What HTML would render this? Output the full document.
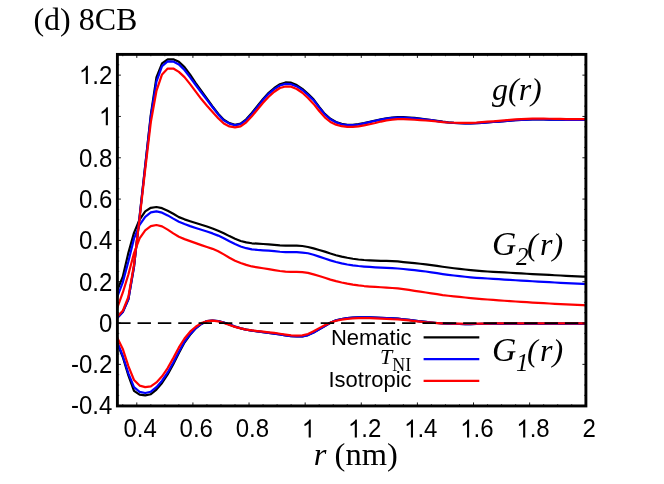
<!DOCTYPE html>
<html><head><meta charset="utf-8"><title>8CB</title>
<style>
html,body{margin:0;padding:0;background:#fff;}
body{width:664px;height:484px;overflow:hidden;position:relative;font-family:"Liberation Sans",sans-serif;}
svg text{white-space:pre;}
svg{will-change:transform;}
</style></head><body>
<svg width="664" height="484" viewBox="0 0 664 484" style="position:absolute;left:0;top:0">
<defs><clipPath id="c"><rect x="117.40" y="54.40" width="468.50" height="351.55"/></clipPath></defs>
<g clip-path="url(#c)" fill="none" stroke-width="2.2" stroke-linejoin="round" stroke-linecap="butt">
<path d="M117.16 318.00 L122.77 311.97 L128.38 299.27 L133.99 266.84 L139.61 216.40 L145.22 165.31 L150.83 114.64 L156.44 77.53 L162.05 63.39 L167.67 59.33 L173.28 59.34 L178.89 61.83 L184.50 67.15 L190.11 74.70 L195.73 83.11 L201.34 90.93 L206.95 98.66 L212.56 106.36 L218.17 113.70 L223.79 119.73 L229.40 123.15 L235.01 124.80 L240.62 123.59 L246.23 119.35 L251.85 112.99 L257.46 105.88 L263.07 98.88 L268.68 92.83 L274.29 87.99 L279.91 84.26 L285.52 82.45 L291.13 82.66 L296.74 85.05 L302.35 88.84 L307.97 93.90 L313.58 99.36 L319.19 106.85 L324.80 113.84 L330.41 118.83 L336.03 121.96 L341.64 123.83 L347.25 124.75 L352.86 124.89 L358.47 124.20 L364.09 123.13 L369.70 121.85 L375.31 120.50 L380.92 119.36 L386.53 118.36 L392.15 117.61 L397.76 117.21 L403.37 117.21 L408.98 117.49 L414.59 117.96 L420.21 118.57 L425.82 119.25 L431.43 119.98 L437.04 120.84 L442.65 121.68 L448.27 122.33 L453.88 122.83 L459.49 123.17 L465.10 123.32 L470.71 123.31 L476.33 123.16 L481.94 122.84 L487.55 122.41 L493.16 122.00 L498.77 121.58 L504.39 121.14 L510.00 120.66 L515.61 120.20 L521.22 119.84 L526.83 119.61 L532.45 119.46 L538.06 119.39 L543.67 119.43 L549.28 119.53 L554.89 119.63 L560.51 119.74 L566.12 119.85 L571.73 119.91 L577.34 119.92 L582.95 119.91 L585.76 119.90" stroke="#000"/>
<path d="M117.16 290.50 L122.77 276.76 L128.38 252.87 L133.99 232.88 L139.61 219.53 L145.22 211.39 L150.83 207.79 L156.44 207.01 L162.05 208.19 L167.67 210.78 L173.28 213.76 L178.89 217.12 L184.50 219.35 L190.11 221.21 L195.73 222.98 L201.34 224.72 L206.95 226.57 L212.56 228.50 L218.17 230.70 L223.79 233.30 L229.40 236.12 L235.01 238.74 L240.62 240.94 L246.23 242.40 L251.85 243.28 L257.46 243.66 L263.07 243.98 L268.68 244.35 L274.29 244.92 L279.91 245.41 L285.52 245.66 L291.13 245.66 L296.74 245.61 L302.35 246.00 L307.97 247.00 L313.58 248.41 L319.19 249.98 L324.80 251.65 L330.41 253.55 L336.03 255.22 L341.64 256.59 L347.25 257.79 L352.86 258.77 L358.47 259.52 L364.09 260.01 L369.70 260.32 L375.31 260.58 L380.92 260.79 L386.53 260.97 L392.15 261.11 L397.76 261.41 L403.37 262.06 L408.98 262.63 L414.59 263.16 L420.21 263.75 L425.82 264.38 L431.43 265.08 L437.04 265.89 L442.65 266.74 L448.27 267.51 L453.88 268.24 L459.49 268.92 L465.10 269.53 L470.71 270.08 L476.33 270.59 L481.94 271.07 L487.55 271.50 L493.16 271.87 L498.77 272.15 L504.39 272.44 L510.00 272.76 L515.61 273.10 L521.22 273.44 L526.83 273.77 L532.45 274.09 L538.06 274.40 L543.67 274.69 L549.28 274.97 L554.89 275.24 L560.51 275.51 L566.12 275.78 L571.73 276.04 L577.34 276.30 L582.95 276.56 L585.76 276.70" stroke="#000"/>
<path d="M117.16 343.00 L122.77 357.00 L128.38 375.37 L133.99 390.79 L139.61 394.65 L145.22 395.44 L150.83 394.21 L156.44 389.56 L162.05 382.98 L167.67 374.41 L173.28 364.17 L178.89 353.08 L184.50 342.48 L190.11 334.87 L195.73 328.30 L201.34 323.94 L206.95 321.04 L212.56 320.50 L218.17 321.01 L223.79 322.48 L229.40 324.46 L235.01 326.60 L240.62 328.31 L246.23 329.66 L251.85 330.65 L257.46 331.46 L263.07 332.17 L268.68 332.85 L274.29 333.55 L279.91 334.42 L285.52 335.29 L291.13 336.11 L296.74 336.50 L302.35 336.37 L307.97 335.06 L313.58 332.49 L319.19 329.23 L324.80 325.97 L330.41 322.82 L336.03 320.36 L341.64 318.99 L347.25 318.08 L352.86 317.60 L358.47 317.36 L364.09 317.30 L369.70 317.38 L375.31 317.54 L380.92 317.73 L386.53 318.02 L392.15 318.40 L397.76 318.70 L403.37 319.28 L408.98 319.96 L414.59 320.64 L420.21 321.30 L425.82 321.95 L431.43 322.51 L437.04 322.98 L442.65 323.36 L448.27 323.65 L453.88 323.85 L459.49 323.99 L465.10 324.05 L470.71 324.03 L476.33 323.99 L481.94 323.92 L487.55 323.84 L493.16 323.76 L498.77 323.71 L504.39 323.68 L510.00 323.65 L515.61 323.64 L521.22 323.63 L526.83 323.62 L532.45 323.61 L538.06 323.60 L543.67 323.60 L549.28 323.59 L554.89 323.59 L560.51 323.59 L566.12 323.59 L571.73 323.60 L577.34 323.60 L582.95 323.60 L585.76 323.60" stroke="#000"/>
<path d="M117.16 318.00 L122.77 311.97 L128.38 299.27 L133.99 266.80 L139.61 216.82 L145.22 166.12 L150.83 116.26 L156.44 81.63 L162.05 66.23 L167.67 61.43 L173.28 61.58 L178.89 64.40 L184.50 70.01 L190.11 77.28 L195.73 85.01 L201.34 92.48 L206.95 99.90 L212.56 107.28 L218.17 114.44 L223.79 120.40 L229.40 123.64 L235.01 125.20 L240.62 124.05 L246.23 120.03 L251.85 113.88 L257.46 106.89 L263.07 99.87 L268.68 93.87 L274.29 89.16 L279.91 85.53 L285.52 83.90 L291.13 84.19 L296.74 86.43 L302.35 90.00 L307.97 94.91 L313.58 100.20 L319.19 107.59 L324.80 114.48 L330.41 119.33 L336.03 122.37 L341.64 124.23 L347.25 125.13 L352.86 125.19 L358.47 124.50 L364.09 123.43 L369.70 122.15 L375.31 120.80 L380.92 119.66 L386.53 118.66 L392.15 117.91 L397.76 117.51 L403.37 117.51 L408.98 117.80 L414.59 118.26 L420.21 118.84 L425.82 119.47 L431.43 120.18 L437.04 121.05 L442.65 121.89 L448.27 122.50 L453.88 122.91 L459.49 123.18 L465.10 123.31 L470.71 123.31 L476.33 123.16 L481.94 122.84 L487.55 122.41 L493.16 122.00 L498.77 121.58 L504.39 121.14 L510.00 120.66 L515.61 120.20 L521.22 119.84 L526.83 119.61 L532.45 119.46 L538.06 119.39 L543.67 119.43 L549.28 119.53 L554.89 119.63 L560.51 119.74 L566.12 119.85 L571.73 119.91 L577.34 119.92 L582.95 119.91 L585.76 119.90" stroke="#0000ff"/>
<path d="M117.16 297.20 L122.77 282.39 L128.38 261.56 L133.99 238.64 L139.61 224.90 L145.22 216.85 L150.83 212.44 L156.44 211.40 L162.05 212.68 L167.67 215.39 L173.28 218.66 L178.89 221.74 L184.50 224.07 L190.11 226.10 L195.73 227.95 L201.34 229.72 L206.95 231.54 L212.56 233.41 L218.17 235.61 L223.79 238.29 L229.40 241.28 L235.01 244.10 L240.62 246.48 L246.23 248.18 L251.85 249.30 L257.46 249.89 L263.07 250.30 L268.68 250.65 L274.29 251.20 L279.91 251.73 L285.52 252.12 L291.13 252.22 L296.74 252.21 L302.35 252.54 L307.97 253.28 L313.58 254.74 L319.19 256.59 L324.80 258.47 L330.41 260.36 L336.03 262.02 L341.64 263.40 L347.25 264.48 L352.86 265.34 L358.47 266.02 L364.09 266.53 L369.70 266.93 L375.31 267.31 L380.92 267.65 L386.53 267.96 L392.15 268.19 L397.76 268.50 L403.37 268.99 L408.98 269.54 L414.59 270.15 L420.21 270.82 L425.82 271.53 L431.43 272.29 L437.04 273.16 L442.65 274.04 L448.27 274.80 L453.88 275.49 L459.49 276.12 L465.10 276.73 L470.71 277.29 L476.33 277.78 L481.94 278.18 L487.55 278.52 L493.16 278.87 L498.77 279.20 L504.39 279.53 L510.00 279.88 L515.61 280.23 L521.22 280.58 L526.83 280.93 L532.45 281.26 L538.06 281.59 L543.67 281.90 L549.28 282.21 L554.89 282.50 L560.51 282.80 L566.12 283.09 L571.73 283.38 L577.34 283.66 L582.95 283.95 L585.76 284.10" stroke="#0000ff"/>
<path d="M117.16 342.00 L122.77 355.78 L128.38 373.39 L133.99 387.19 L139.61 391.83 L145.22 393.05 L150.83 391.71 L156.44 387.16 L162.05 380.72 L167.67 372.42 L173.28 362.50 L178.89 351.73 L184.50 341.52 L190.11 334.17 L195.73 328.19 L201.34 323.94 L206.95 321.04 L212.56 320.50 L218.17 321.01 L223.79 322.48 L229.40 324.46 L235.01 326.60 L240.62 328.31 L246.23 329.66 L251.85 330.65 L257.46 331.46 L263.07 332.17 L268.68 332.85 L274.29 333.55 L279.91 334.42 L285.52 335.29 L291.13 336.11 L296.74 336.50 L302.35 336.37 L307.97 335.06 L313.58 332.49 L319.19 329.23 L324.80 325.97 L330.41 322.82 L336.03 320.36 L341.64 318.99 L347.25 318.08 L352.86 317.60 L358.47 317.36 L364.09 317.30 L369.70 317.38 L375.31 317.54 L380.92 317.73 L386.53 318.02 L392.15 318.40 L397.76 318.70 L403.37 319.28 L408.98 319.96 L414.59 320.64 L420.21 321.30 L425.82 321.95 L431.43 322.51 L437.04 322.98 L442.65 323.36 L448.27 323.65 L453.88 323.85 L459.49 323.99 L465.10 324.05 L470.71 324.03 L476.33 323.99 L481.94 323.92 L487.55 323.84 L493.16 323.76 L498.77 323.71 L504.39 323.68 L510.00 323.65 L515.61 323.64 L521.22 323.63 L526.83 323.62 L532.45 323.61 L538.06 323.60 L543.67 323.60 L549.28 323.59 L554.89 323.59 L560.51 323.59 L566.12 323.59 L571.73 323.60 L577.34 323.60 L582.95 323.60 L585.76 323.60" stroke="#0000ff"/>
<path d="M117.16 316.80 L122.77 310.80 L128.38 296.90 L133.99 264.78 L139.61 218.28 L145.22 169.37 L150.83 122.12 L156.44 90.96 L162.05 74.39 L167.67 68.56 L173.28 68.49 L178.89 71.88 L184.50 77.10 L190.11 84.10 L195.73 91.63 L201.34 99.07 L206.95 105.67 L212.56 111.91 L218.17 118.19 L223.79 123.58 L229.40 126.44 L235.01 127.42 L240.62 126.32 L246.23 122.31 L251.85 116.26 L257.46 109.50 L263.07 102.80 L268.68 96.80 L274.29 91.71 L279.91 88.01 L285.52 86.48 L291.13 86.72 L296.74 88.99 L302.35 92.76 L307.97 97.97 L313.58 103.94 L319.19 110.99 L324.80 117.36 L330.41 122.01 L336.03 124.67 L341.64 126.20 L347.25 126.85 L352.86 126.79 L358.47 126.33 L364.09 125.39 L369.70 124.21 L375.31 123.00 L380.92 121.55 L386.53 120.45 L392.15 119.67 L397.76 119.11 L403.37 119.03 L408.98 119.32 L414.59 119.77 L420.21 120.13 L425.82 120.48 L431.43 120.92 L437.04 121.51 L442.65 122.09 L448.27 122.50 L453.88 122.76 L459.49 122.89 L465.10 122.90 L470.71 122.78 L476.33 122.55 L481.94 122.17 L487.55 121.72 L493.16 121.30 L498.77 120.88 L504.39 120.43 L510.00 119.92 L515.61 119.42 L521.22 119.04 L526.83 118.80 L532.45 118.66 L538.06 118.59 L543.67 118.63 L549.28 118.73 L554.89 118.83 L560.51 118.94 L566.12 119.05 L571.73 119.11 L577.34 119.12 L582.95 119.11 L585.76 119.10" stroke="#ff0000"/>
<path d="M117.16 308.00 L122.77 292.70 L128.38 274.49 L133.99 253.15 L139.61 238.42 L145.22 230.45 L150.83 226.14 L156.44 225.00 L162.05 226.38 L167.67 229.60 L173.28 233.38 L178.89 236.81 L184.50 239.12 L190.11 241.10 L195.73 243.11 L201.34 245.09 L206.95 246.98 L212.56 248.86 L218.17 251.27 L223.79 254.38 L229.40 257.73 L235.01 260.70 L240.62 262.96 L246.23 264.91 L251.85 266.45 L257.46 267.39 L263.07 268.27 L268.68 269.20 L274.29 270.17 L279.91 271.02 L285.52 271.67 L291.13 271.85 L296.74 271.81 L302.35 272.14 L307.97 272.88 L313.58 274.36 L319.19 276.05 L324.80 277.75 L330.41 279.59 L336.03 281.18 L341.64 282.50 L347.25 283.62 L352.86 284.57 L358.47 285.38 L364.09 286.03 L369.70 286.53 L375.31 286.91 L380.92 287.27 L386.53 287.64 L392.15 287.98 L397.76 288.43 L403.37 289.11 L408.98 289.93 L414.59 290.84 L420.21 291.66 L425.82 292.47 L431.43 293.30 L437.04 294.19 L442.65 295.05 L448.27 295.77 L453.88 296.37 L459.49 296.93 L465.10 297.51 L470.71 298.07 L476.33 298.59 L481.94 299.05 L487.55 299.48 L493.16 299.91 L498.77 300.34 L504.39 300.73 L510.00 301.10 L515.61 301.48 L521.22 301.85 L526.83 302.21 L532.45 302.56 L538.06 302.89 L543.67 303.20 L549.28 303.50 L554.89 303.78 L560.51 304.06 L566.12 304.34 L571.73 304.61 L577.34 304.89 L582.95 305.16 L585.76 305.30" stroke="#ff0000"/>
<path d="M117.16 337.50 L122.77 348.94 L128.38 366.10 L133.99 379.99 L139.61 385.59 L145.22 387.18 L150.83 386.45 L156.44 382.44 L162.05 376.28 L167.67 368.08 L173.28 358.12 L178.89 347.43 L184.50 338.48 L190.11 331.69 L195.73 326.71 L201.34 323.14 L206.95 321.19 L212.56 320.70 L218.17 321.29 L223.79 322.91 L229.40 324.93 L235.01 326.89 L240.62 328.41 L246.23 329.57 L251.85 330.37 L257.46 331.06 L263.07 331.67 L268.68 332.29 L274.29 332.95 L279.91 333.75 L285.52 334.57 L291.13 335.32 L296.74 335.64 L302.35 335.43 L307.97 333.99 L313.58 331.23 L319.19 328.12 L324.80 325.19 L330.41 322.64 L336.03 320.74 L341.64 319.62 L347.25 318.85 L352.86 318.40 L358.47 318.17 L364.09 318.10 L369.70 318.18 L375.31 318.34 L380.92 318.54 L386.53 318.80 L392.15 319.14 L397.76 319.34 L403.37 319.84 L408.98 320.44 L414.59 321.05 L420.21 321.64 L425.82 322.22 L431.43 322.69 L437.04 323.04 L442.65 323.30 L448.27 323.50 L453.88 323.62 L459.49 323.69 L465.10 323.73 L470.71 323.73 L476.33 323.69 L481.94 323.62 L487.55 323.54 L493.16 323.46 L498.77 323.41 L504.39 323.38 L510.00 323.35 L515.61 323.34 L521.22 323.33 L526.83 323.32 L532.45 323.31 L538.06 323.30 L543.67 323.30 L549.28 323.29 L554.89 323.29 L560.51 323.29 L566.12 323.29 L571.73 323.30 L577.34 323.30 L582.95 323.30 L585.76 323.30" stroke="#ff0000"/>
<path d="M117.20 323.05 H585.90" stroke="#000" stroke-width="1.7" stroke-dasharray="13.4 6.95"/>
</g>
<g stroke="#000" fill="none"><path d="M122.77 405.95 v-1.85 M122.77 54.40 v1.85" stroke-width="0.7"/><path d="M136.80 405.95 v-3.50 M136.80 54.40 v3.50" stroke-width="0.9"/><path d="M150.83 405.95 v-1.85 M150.83 54.40 v1.85" stroke-width="0.7"/><path d="M164.86 405.95 v-1.85 M164.86 54.40 v1.85" stroke-width="0.7"/><path d="M178.89 405.95 v-1.85 M178.89 54.40 v1.85" stroke-width="0.7"/><path d="M192.92 405.95 v-3.50 M192.92 54.40 v3.50" stroke-width="0.9"/><path d="M206.95 405.95 v-1.85 M206.95 54.40 v1.85" stroke-width="0.7"/><path d="M220.98 405.95 v-1.85 M220.98 54.40 v1.85" stroke-width="0.7"/><path d="M235.01 405.95 v-1.85 M235.01 54.40 v1.85" stroke-width="0.7"/><path d="M249.04 405.95 v-3.50 M249.04 54.40 v3.50" stroke-width="0.9"/><path d="M263.07 405.95 v-1.85 M263.07 54.40 v1.85" stroke-width="0.7"/><path d="M277.10 405.95 v-1.85 M277.10 54.40 v1.85" stroke-width="0.7"/><path d="M291.13 405.95 v-1.85 M291.13 54.40 v1.85" stroke-width="0.7"/><path d="M305.16 405.95 v-3.50 M305.16 54.40 v3.50" stroke-width="0.9"/><path d="M319.19 405.95 v-1.85 M319.19 54.40 v1.85" stroke-width="0.7"/><path d="M333.22 405.95 v-1.85 M333.22 54.40 v1.85" stroke-width="0.7"/><path d="M347.25 405.95 v-1.85 M347.25 54.40 v1.85" stroke-width="0.7"/><path d="M361.28 405.95 v-3.50 M361.28 54.40 v3.50" stroke-width="0.9"/><path d="M375.31 405.95 v-1.85 M375.31 54.40 v1.85" stroke-width="0.7"/><path d="M389.34 405.95 v-1.85 M389.34 54.40 v1.85" stroke-width="0.7"/><path d="M403.37 405.95 v-1.85 M403.37 54.40 v1.85" stroke-width="0.7"/><path d="M417.40 405.95 v-3.50 M417.40 54.40 v3.50" stroke-width="0.9"/><path d="M431.43 405.95 v-1.85 M431.43 54.40 v1.85" stroke-width="0.7"/><path d="M445.46 405.95 v-1.85 M445.46 54.40 v1.85" stroke-width="0.7"/><path d="M459.49 405.95 v-1.85 M459.49 54.40 v1.85" stroke-width="0.7"/><path d="M473.52 405.95 v-3.50 M473.52 54.40 v3.50" stroke-width="0.9"/><path d="M487.55 405.95 v-1.85 M487.55 54.40 v1.85" stroke-width="0.7"/><path d="M501.58 405.95 v-1.85 M501.58 54.40 v1.85" stroke-width="0.7"/><path d="M515.61 405.95 v-1.85 M515.61 54.40 v1.85" stroke-width="0.7"/><path d="M529.64 405.95 v-3.50 M529.64 54.40 v3.50" stroke-width="0.9"/><path d="M543.67 405.95 v-1.85 M543.67 54.40 v1.85" stroke-width="0.7"/><path d="M557.70 405.95 v-1.85 M557.70 54.40 v1.85" stroke-width="0.7"/><path d="M571.73 405.95 v-1.85 M571.73 54.40 v1.85" stroke-width="0.7"/><path d="M585.76 405.95 v-3.50 M585.76 54.40 v3.50" stroke-width="0.9"/><path d="M117.40 405.69 h3.50 M585.90 405.69 h-3.50" stroke-width="0.9"/><path d="M117.40 395.36 h1.85 M585.90 395.36 h-1.85" stroke-width="0.7"/><path d="M117.40 385.03 h1.85 M585.90 385.03 h-1.85" stroke-width="0.7"/><path d="M117.40 374.70 h1.85 M585.90 374.70 h-1.85" stroke-width="0.7"/><path d="M117.40 364.37 h3.50 M585.90 364.37 h-3.50" stroke-width="0.9"/><path d="M117.40 354.04 h1.85 M585.90 354.04 h-1.85" stroke-width="0.7"/><path d="M117.40 343.71 h1.85 M585.90 343.71 h-1.85" stroke-width="0.7"/><path d="M117.40 333.38 h1.85 M585.90 333.38 h-1.85" stroke-width="0.7"/><path d="M117.40 323.05 h3.50 M585.90 323.05 h-3.50" stroke-width="0.9"/><path d="M117.40 312.72 h1.85 M585.90 312.72 h-1.85" stroke-width="0.7"/><path d="M117.40 302.39 h1.85 M585.90 302.39 h-1.85" stroke-width="0.7"/><path d="M117.40 292.06 h1.85 M585.90 292.06 h-1.85" stroke-width="0.7"/><path d="M117.40 281.73 h3.50 M585.90 281.73 h-3.50" stroke-width="0.9"/><path d="M117.40 271.40 h1.85 M585.90 271.40 h-1.85" stroke-width="0.7"/><path d="M117.40 261.07 h1.85 M585.90 261.07 h-1.85" stroke-width="0.7"/><path d="M117.40 250.74 h1.85 M585.90 250.74 h-1.85" stroke-width="0.7"/><path d="M117.40 240.41 h3.50 M585.90 240.41 h-3.50" stroke-width="0.9"/><path d="M117.40 230.08 h1.85 M585.90 230.08 h-1.85" stroke-width="0.7"/><path d="M117.40 219.75 h1.85 M585.90 219.75 h-1.85" stroke-width="0.7"/><path d="M117.40 209.42 h1.85 M585.90 209.42 h-1.85" stroke-width="0.7"/><path d="M117.40 199.09 h3.50 M585.90 199.09 h-3.50" stroke-width="0.9"/><path d="M117.40 188.76 h1.85 M585.90 188.76 h-1.85" stroke-width="0.7"/><path d="M117.40 178.43 h1.85 M585.90 178.43 h-1.85" stroke-width="0.7"/><path d="M117.40 168.10 h1.85 M585.90 168.10 h-1.85" stroke-width="0.7"/><path d="M117.40 157.77 h3.50 M585.90 157.77 h-3.50" stroke-width="0.9"/><path d="M117.40 147.44 h1.85 M585.90 147.44 h-1.85" stroke-width="0.7"/><path d="M117.40 137.11 h1.85 M585.90 137.11 h-1.85" stroke-width="0.7"/><path d="M117.40 126.78 h1.85 M585.90 126.78 h-1.85" stroke-width="0.7"/><path d="M117.40 116.45 h3.50 M585.90 116.45 h-3.50" stroke-width="0.9"/><path d="M117.40 106.12 h1.85 M585.90 106.12 h-1.85" stroke-width="0.7"/><path d="M117.40 95.79 h1.85 M585.90 95.79 h-1.85" stroke-width="0.7"/><path d="M117.40 85.46 h1.85 M585.90 85.46 h-1.85" stroke-width="0.7"/><path d="M117.40 75.13 h3.50 M585.90 75.13 h-3.50" stroke-width="0.9"/><path d="M117.40 64.80 h1.85 M585.90 64.80 h-1.85" stroke-width="0.7"/><path d="M117.40 54.47 h1.85 M585.90 54.47 h-1.85" stroke-width="0.7"/></g>
<rect x="117.40" y="54.40" width="468.50" height="351.55" fill="none" stroke="#000" stroke-width="2.9"/>
<path d="M423.6 337.4 H479.3" stroke="#000" stroke-width="2.1" fill="none"/>
<path d="M423.6 359.1 H479.3" stroke="#0000ff" stroke-width="2.1" fill="none"/>
<path d="M423.6 380.9 H479.3" stroke="#ff0000" stroke-width="2.1" fill="none"/>
<g fill="#000"><g transform="translate(0 437.50) scale(1 1.050) translate(0 -437.20)">
<text x="123.47" y="437.20" font-family="Liberation Sans, sans-serif" font-size="24.0">0.4</text>
</g>
<g transform="translate(0 437.50) scale(1 1.050) translate(0 -437.20)">
<text x="179.59" y="437.20" font-family="Liberation Sans, sans-serif" font-size="24.0">0.6</text>
</g>
<g transform="translate(0 437.50) scale(1 1.050) translate(0 -437.20)">
<text x="235.71" y="437.20" font-family="Liberation Sans, sans-serif" font-size="24.0">0.8</text>
</g>
<g transform="translate(0 437.50) scale(1 1.050) translate(0 -437.20)">
<path transform="translate(301.84 437.20) scale(0.01172 -0.01172)" d="M763 0H583V1147Q518 1085 412.5 1023T223 930V1104Q373 1174.5 485.5 1275T644 1470H763Z"/>
</g>
<g transform="translate(0 437.50) scale(1 1.050) translate(0 -437.20)">
<path transform="translate(347.95 437.20) scale(0.01172 -0.01172)" d="M763 0H583V1147Q518 1085 412.5 1023T223 930V1104Q373 1174.5 485.5 1275T644 1470H763Z"/>
<text x="361.29" y="437.20" font-family="Liberation Sans, sans-serif" font-size="24.0">.2</text>
</g>
<g transform="translate(0 437.50) scale(1 1.050) translate(0 -437.20)">
<path transform="translate(404.07 437.20) scale(0.01172 -0.01172)" d="M763 0H583V1147Q518 1085 412.5 1023T223 930V1104Q373 1174.5 485.5 1275T644 1470H763Z"/>
<text x="417.41" y="437.20" font-family="Liberation Sans, sans-serif" font-size="24.0">.4</text>
</g>
<g transform="translate(0 437.50) scale(1 1.050) translate(0 -437.20)">
<path transform="translate(460.19 437.20) scale(0.01172 -0.01172)" d="M763 0H583V1147Q518 1085 412.5 1023T223 930V1104Q373 1174.5 485.5 1275T644 1470H763Z"/>
<text x="473.53" y="437.20" font-family="Liberation Sans, sans-serif" font-size="24.0">.6</text>
</g>
<g transform="translate(0 437.50) scale(1 1.050) translate(0 -437.20)">
<path transform="translate(516.31 437.20) scale(0.01172 -0.01172)" d="M763 0H583V1147Q518 1085 412.5 1023T223 930V1104Q373 1174.5 485.5 1275T644 1470H763Z"/>
<text x="529.65" y="437.20" font-family="Liberation Sans, sans-serif" font-size="24.0">.8</text>
</g>
<g transform="translate(0 437.50) scale(1 1.050) translate(0 -437.20)">
<text x="582.44" y="437.20" font-family="Liberation Sans, sans-serif" font-size="24.0">2</text>
</g>
<g transform="translate(0 414.49) scale(1 1.050) translate(0 -414.19)">
<text x="70.95" y="414.19" font-family="Liberation Sans, sans-serif" font-size="24.0">-0.4</text>
</g>
<g transform="translate(0 373.17) scale(1 1.050) translate(0 -372.87)">
<text x="70.95" y="372.87" font-family="Liberation Sans, sans-serif" font-size="24.0">-0.2</text>
</g>
<g transform="translate(0 331.85) scale(1 1.050) translate(0 -331.55)">
<text x="98.96" y="331.55" font-family="Liberation Sans, sans-serif" font-size="24.0">0</text>
</g>
<g transform="translate(0 290.53) scale(1 1.050) translate(0 -290.23)">
<text x="78.94" y="290.23" font-family="Liberation Sans, sans-serif" font-size="24.0">0.2</text>
</g>
<g transform="translate(0 249.21) scale(1 1.050) translate(0 -248.91)">
<text x="78.94" y="248.91" font-family="Liberation Sans, sans-serif" font-size="24.0">0.4</text>
</g>
<g transform="translate(0 207.89) scale(1 1.050) translate(0 -207.59)">
<text x="78.94" y="207.59" font-family="Liberation Sans, sans-serif" font-size="24.0">0.6</text>
</g>
<g transform="translate(0 166.57) scale(1 1.050) translate(0 -166.27)">
<text x="78.94" y="166.27" font-family="Liberation Sans, sans-serif" font-size="24.0">0.8</text>
</g>
<g transform="translate(0 125.25) scale(1 1.050) translate(0 -124.95)">
<path transform="translate(98.96 124.95) scale(0.01172 -0.01172)" d="M763 0H583V1147Q518 1085 412.5 1023T223 930V1104Q373 1174.5 485.5 1275T644 1470H763Z"/>
</g>
<g transform="translate(0 83.93) scale(1 1.050) translate(0 -83.63)">
<path transform="translate(78.94 83.63) scale(0.01172 -0.01172)" d="M763 0H583V1147Q518 1085 412.5 1023T223 930V1104Q373 1174.5 485.5 1275T644 1470H763Z"/>
<text x="92.28" y="83.63" font-family="Liberation Sans, sans-serif" font-size="24.0">.2</text>
</g>
<text x="33.4" y="29.6" font-family="Liberation Serif, serif" font-size="32">(d) 8CB</text>
<text x="313.8" y="464.7" font-family="Liberation Serif, serif" font-size="32.5"><tspan font-style="italic">r</tspan> (nm)</text>
<text x="492" y="100.3" font-family="Liberation Serif, serif" font-size="32" font-style="italic">g(r)</text>
<text y="255.30" font-family="Liberation Serif, serif" font-size="32" font-style="italic"><tspan x="491.9" font-size="33.6">G</tspan><tspan x="516.0" font-size="25" dy="9.90">2</tspan><tspan x="527.0" dy="-9.90">(</tspan><tspan x="540.0">r)</tspan></text>
<text y="360.80" font-family="Liberation Serif, serif" font-size="32" font-style="italic"><tspan x="491.9" font-size="33.6">G</tspan><tspan x="516.0" font-size="25" dy="10.20">1</tspan><tspan x="527.0" dy="-10.20">(</tspan><tspan x="540.0">r)</tspan></text>
<text x="411.6" y="344.5" text-anchor="end" font-family="Liberation Sans, sans-serif" font-size="22.0">Nematic</text>
<text x="411.6" y="387.3" text-anchor="end" font-family="Liberation Sans, sans-serif" font-size="22.0">Isotropic</text>
<text x="411.2" y="363.9" text-anchor="end" font-family="Liberation Serif, serif" font-size="22.0"><tspan font-style="italic">T</tspan><tspan font-size="17.9" dy="6.6">NI</tspan></text></g>
</svg>
</body></html>
